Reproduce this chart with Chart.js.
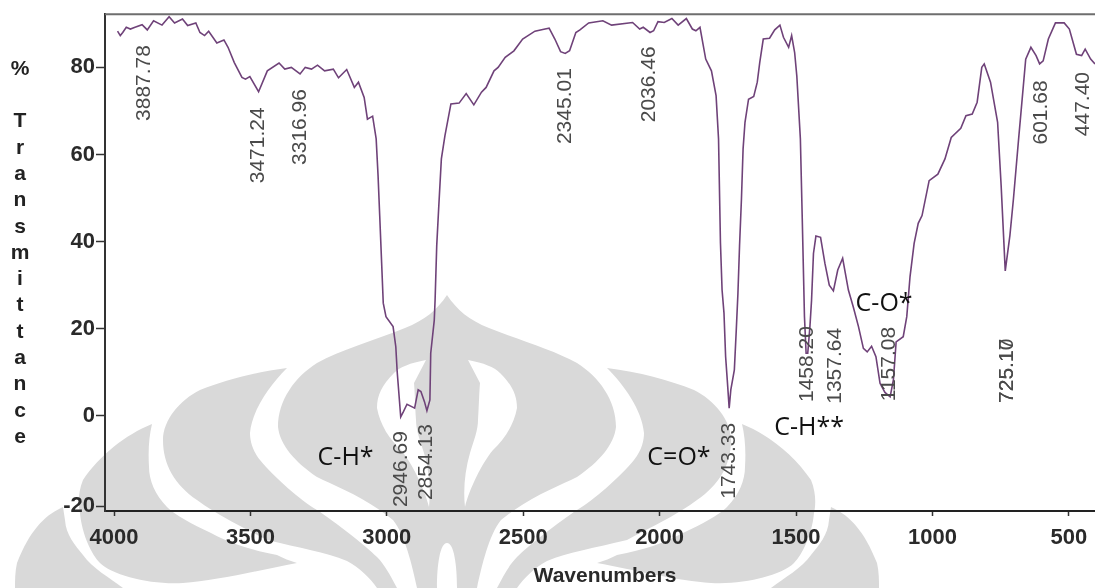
<!DOCTYPE html>
<html>
<head>
<meta charset="utf-8">
<title>FTIR spectrum</title>
<script src="https://cdn.jsdelivr.net/npm/chart.js@4"></script>
<style>
    html, body { margin: 0; padding: 0; background: #fff; overflow: hidden; }
    #wrap { position: relative; width: 1095px; height: 588px; }
    #mark, #graph { position: absolute; left: 0; top: 0; }
</style>
</head>
<body>
<div id="wrap">
    <!-- faint logo behind the plot, mirrored around its centre line -->
    <svg id="mark" width="1095" height="588" viewBox="0 0 1095 588">
        <defs>
            <g id="half">
                <path fill="#d9d9d9" d="M447 295 C437 310 425 320 405 328 C375 340 340 350 317 363 C295 377 278 400 278 427 C280 445 295 462 317 477 C335 486 365 497 393 520 C405 535 412 565 417 588 L437 588 C437 565 440 543 447 543 Z"/>
                <path fill="#d9d9d9" d="M287 368 C255 372 225 380 200 390 C180 400 163 420 163 440 C163 465 175 485 197 500 C220 517 245 528 267 540 C300 548 325 552 347 561 C360 568 370 578 377 588 L397 588 C390 575 385 565 377 557 C365 545 335 522 317 510 C300 500 275 478 260 460 C252 450 250 440 250 433 C252 410 270 385 287 368 Z"/>
                <path fill="#d9d9d9" d="M152 424 C125 435 100 455 83 480 C78 492 78 505 80 513 C82 535 92 555 100 563 C112 575 150 585 183 583 C215 581 260 570 297 563 C290 561 283 558 277 555 C250 550 230 543 211 533 C190 523 175 515 167 507 C155 495 149 480 149 467 C148 450 149 437 152 424 Z"/>
                <path fill="#d9d9d9" d="M63 507 C45 515 30 530 17 563 C15 572 15 580 15 588 L123 588 C110 578 92 568 83 555 C75 545 66 535 65 520 Z"/>
                <path fill="#fff" d="M426 360 C410 363 400 367 394 373 C382 385 377 395 377 408 C380 425 390 440 401 450 C412 463 425 490 429 507 C431 490 429 470 424 453 C420 440 416 430 416 420 C415 405 415 395 414 383 Z"/>
            </g>
        </defs>
        <use href="#half"/>
        <use href="#half" transform="translate(894 0) scale(-1 1)"/>
    </svg>
    <canvas id="graph" width="1095" height="588"></canvas>
</div>

<script>
// left to right
const wavenumbers = [
    3987, 3977, 3968, 3955, 3940, 3923, 3897, 3878, 3855, 3824, 3798, 3778, 3749, 3730, 3700, 3685,
    3668, 3653, 3623, 3597, 3582, 3559, 3531, 3518, 3502, 3470, 3438, 3395, 3374, 3350, 3318, 3299,
    3276, 3254, 3228, 3196, 3177, 3147, 3119, 3104, 3083, 3071, 3052, 3039, 3032, 3026, 3019, 3013,
    3003, 2977, 2967, 2962, 2949, 2939, 2926, 2907, 2898, 2885, 2875, 2862, 2853, 2842, 2839, 2826,
    2823, 2817, 2810, 2800, 2787, 2765, 2735, 2709, 2681, 2653, 2636, 2607, 2592, 2566, 2534, 2502,
    2457, 2420, 2405, 2384, 2363, 2346, 2330, 2307, 2292, 2260, 2208, 2176, 2099, 2073, 2060, 2035,
    2022, 2006, 1983, 1955, 1932, 1902, 1880, 1867, 1852, 1831, 1810, 1793, 1784, 1777, 1771, 1764,
    1758, 1752, 1745, 1739, 1726, 1719, 1713, 1707, 1700, 1694, 1687, 1674, 1655, 1642, 1633, 1620,
    1597, 1578, 1559, 1546, 1527, 1516, 1505, 1497, 1484, 1477, 1469, 1463, 1457, 1449, 1443, 1436,
    1427, 1410, 1394, 1378, 1363, 1347, 1329, 1308, 1290, 1271, 1253, 1239, 1223, 1207, 1192, 1174,
    1155, 1143, 1133, 1107, 1094, 1082, 1067, 1052, 1038, 1012, 980, 954, 931, 896, 877, 854,
    836, 819, 810, 787, 761, 748, 733, 716, 703, 684, 671, 658, 639, 620, 607, 594,
    575, 549, 517, 498, 472, 453, 440, 420, 404
];
const transmittance = [
    88.3, 87.3, 88.0, 89.2, 88.8, 89.2, 89.8, 88.6, 90.7, 89.7, 91.6, 90.2, 91.1, 89.6, 90.2, 88.0,
    87.3, 88.3, 85.6, 86.3, 84.6, 81.1, 77.7, 77.3, 77.9, 74.4, 79.2, 81.0, 79.6, 80.0, 78.5, 80.0,
    79.6, 80.5, 79.2, 79.6, 77.6, 79.5, 75.4, 76.6, 73.1, 68.1, 68.8, 63.6, 55.1, 46.0, 35.2, 25.9,
    22.8, 20.5, 15.9, 10.2, -0.2, 1.0, 2.7, 2.1, 1.8, 6.0, 5.6, 3.3, 1.2, 3.7, 14.4, 22.0,
    26.6, 39.1, 47.5, 59.0, 64.3, 71.6, 71.8, 74.0, 71.4, 74.3, 75.4, 79.2, 80.0, 82.3, 83.8, 86.5,
    88.3, 88.8, 89.0, 86.5, 83.6, 83.2, 83.8, 88.0, 88.6, 90.2, 90.7, 89.7, 90.3, 88.8, 89.2, 88.0,
    88.4, 90.5, 90.3, 91.2, 89.7, 91.2, 88.8, 88.4, 89.2, 81.9, 79.2, 73.5, 63.6, 39.8, 28.9, 23.6,
    13.6, 8.3, 1.8, 6.0, 10.6, 19.7, 28.0, 39.0, 49.8, 61.3, 67.4, 72.7, 73.3, 76.6, 81.1, 86.5,
    86.7, 88.6, 89.7, 86.9, 84.6, 87.3, 83.4, 78.0, 63.6, 45.0, 22.8, 14.4, 14.4, 20.5, 26.6, 37.3,
    41.3, 41.0, 35.0, 30.0, 28.7, 33.5, 36.2, 28.9, 25.0, 20.5, 15.5, 14.7, 16.0, 13.6, 7.5, 5.4,
    4.4, 8.3, 17.0, 18.2, 22.8, 32.0, 39.6, 44.2, 46.0, 54.0, 55.5, 59.0, 63.9, 66.0, 68.9, 69.3,
    72.0, 80.0, 80.8, 76.6, 67.4, 52.8, 33.3, 41.4, 49.8, 63.6, 72.7, 81.9, 84.6, 82.7, 80.8, 81.5,
    86.5, 90.2, 90.2, 88.8, 83.0, 82.7, 84.2, 81.9, 80.8
];

const xTicks = [4000, 3500, 3000, 2500, 2000, 1500, 1000, 500];
const yTicks = [80, 60, 40, 20, 0, -20.7]; // the -20 mark sits a little low on the scan
const yTickLabels = ['80', '60', '40', '20', '0', '-20'];
const yTitleLetters = ['%', '', 'T', 'r', 'a', 'n', 's', 'm', 'i', 't', 't', 'a', 'n', 'c', 'e'];

const peakLabels = ['3887.78', '3471.24', '3316.96', '2946.69', '2854.13', '2345.01', '2036.46',
    '1743.33', '1458.20', '1357.64', '1157.08', '725.17', '725.10', '601.68', '447.40'];
const peakLabelEnds = [67.7, 53.4, 57.6, -20.9, -19.3, 62.4, 67.4, -19, 3.2, 2.8, 3.4, 3, 3, 62.3, 64.2];

const bandNames = ['C-H*', 'C=O*', 'C-H**', 'C-O*'];
const bandWavenumbers = [3151, 1929, 1452, 1177];
const bandLevels = [-11.2, -11.2, -4.4, 24.1];

const spectrum = wavenumbers.map((w, i) => ({ x: w, y: transmittance[i] }));

const tickFont = { family: '"Liberation Sans"', size: 22, weight: 'bold' };

const extras = {
    id: 'extras',
    afterDraw(chart) {
        const ctx = chart.ctx;
        const x = chart.scales.x;
        const y = chart.scales.y;
        const area = chart.chartArea;

        ctx.save();
        // top edge of the frame
        ctx.strokeStyle = '#6e6e6e';
        ctx.lineWidth = 2;
        ctx.beginPath();
        ctx.moveTo(area.left, area.top);
        ctx.lineTo(area.right, area.top);
        ctx.stroke();

        // peak labels
        ctx.fillStyle = '#4a4a4a';
        ctx.font = '21px "Liberation Sans"';
        ctx.textAlign = 'left';
        ctx.textBaseline = 'middle';
        peakLabels.forEach((label, i) => {
            ctx.save();
            ctx.translate(x.getPixelForValue(parseFloat(label)), y.getPixelForValue(peakLabelEnds[i]));
            ctx.rotate(-Math.PI / 2);
            ctx.fillText(label, 0, 0);
            ctx.restore();
        });

        // band assignments
        ctx.fillStyle = '#111';
        ctx.font = '25px "Open Sans"';
        ctx.textAlign = 'center';
        ctx.textBaseline = 'alphabetic';
        bandNames.forEach((name, i) => {
            ctx.fillText(name, x.getPixelForValue(bandWavenumbers[i]), y.getPixelForValue(bandLevels[i]));
        });

        // stacked y title
        ctx.fillStyle = '#222';
        ctx.font = 'bold 21px "Liberation Sans"';
        ctx.textBaseline = 'middle';
        yTitleLetters.forEach((letter, i) => {
            ctx.fillText(letter, 20, 69 + i * 26.3);
        });

        // x title, a little right of the plot centre in the scan
        ctx.fillStyle = '#2a2a2a';
        ctx.font = 'bold 21px "Liberation Sans"';
        ctx.fillText('Wavenumbers', 605, 576);
        ctx.restore();
    }
};

new Chart(document.getElementById('graph').getContext('2d'), {
    type: 'scatter',
    data: {
        datasets: [{
            label: 'Transmittance',
            data: spectrum,
            showLine: true,
            borderColor: '#6f4279',
            borderWidth: 1.6,
            pointRadius: 0,
            tension: 0
        }]
    },
    options: {
        responsive: false,
        animation: false,
        layout: { padding: { top: 14 } },
        plugins: { legend: { display: false }, tooltip: { enabled: false } },
        scales: {
            x: {
                type: 'linear',
                reverse: true,
                min: 404,
                max: 4033,
                afterFit: s => { s.height = 77; s.paddingLeft = 0; s.paddingRight = 0; },
                afterBuildTicks: s => { s.ticks = xTicks.map(v => ({ value: v })); },
                grid: { drawOnChartArea: false, tickLength: 5, color: '#333', tickWidth: 1.5 },
                border: { color: '#222', width: 2 },
                ticks: {
                    autoSkip: false,
                    maxRotation: 0,
                    padding: 9,
                    color: '#2a2a2a',
                    font: tickFont,
                    callback: value => String(value)
                }
            },
            y: {
                min: -21.8,
                max: 92.2,
                afterFit: s => { s.width = 105; },
                afterBuildTicks: s => { s.ticks = yTicks.map(v => ({ value: v })); },
                grid: { drawOnChartArea: false, tickLength: 9, color: '#333', tickWidth: 1.5 },
                border: { color: '#333', width: 2 },
                ticks: {
                    autoSkip: false,
                    padding: 1,
                    color: '#2a2a2a',
                    font: tickFont,
                    callback: (value, i) => yTickLabels[i]
                }
            }
        }
    },
    plugins: [extras]
});
</script>
</body>
</html>
